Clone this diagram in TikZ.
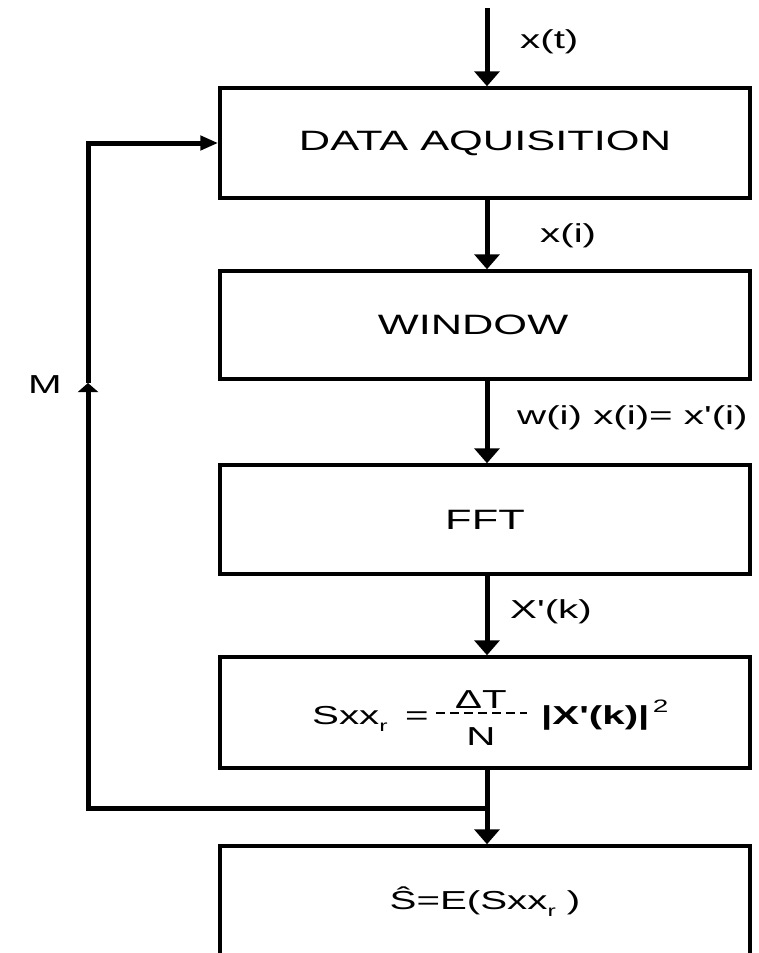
\documentclass[tikz,border=0pt]{standalone}
\usepackage{fontspec}
\newfontfamily\ar[FakeStretch=1.55]{Liberation Sans}
\usetikzlibrary{arrows.meta}
\newcommand{\subr}{\raisebox{-7pt}{\fontsize{16}{16}\selectfont r}}
\begin{document}
\begin{tikzpicture}[x=1pt,y=-1pt,
  blk/.style={draw, line width=3.5pt, minimum width=530pt, inner sep=0pt, font=\ar\fontsize{28}{30}\selectfont},
  conn/.style={line width=5pt, -{Triangle[width=25pt,length=15pt]}},
  fb/.style={line width=5pt},
  lbl/.style={anchor=west, inner sep=0pt, font=\ar\fontsize{26}{28}\selectfont},
  ftxt/.style={inner sep=0pt, font=\ar\fontsize{26}{28}\selectfont},
]
\useasboundingbox (0,0) rectangle (759,953);
\clip (0,0) rectangle (759,953);
\node[blk, minimum height=110pt] (b1) at (485,143) {DATA AQUISITION};
\node[blk, minimum height=108pt] (b2) at (485,325) {\hspace*{-24pt}WINDOW};
\node[blk, minimum height=109pt] (b3) at (485,519.5) {FFT};
\node[blk, minimum height=111pt] (b4) at (485,712.5) {};
\node[blk, minimum height=112pt, font=\ar\fontsize{26}{28}\selectfont] (b5) at (485,902) {\^{S}=E(Sxx\subr\ )};

% formula in box 4
\node[ftxt, anchor=base west] (f1) at (312,724) {Sxx\subr};
\node[ftxt, anchor=base west] (f2) at (405,724) {=};
\node[ftxt] (f3) at (481,700) {ΔT};
\node[ftxt] (f4) at (481,737) {N};
\node[ftxt, anchor=base west] (f5) at (541,724) {\textbf{|X'(k)|}};
\node[ftxt, anchor=base west, font=\ar\fontsize{18}{18}\selectfont] (f6) at ([xshift=3pt]f5.base east) {\raisebox{12pt}{2}};
\draw[line width=2.5pt, dash pattern=on 9pt off 5pt] (436,713) -- (527,713);

% connectors
\coordinate (top) at (487,8);
\draw[conn] (top) -- (b1.north -| top);
\draw[conn] (b1.south -| top) -- (b2.north -| top);
\draw[conn] (b2.south -| top) -- (b3.north -| top);
\draw[conn] (b3.south -| top) -- (b4.north -| top);
\draw[conn] (b4.south -| top) -- (b5.north -| top);

\coordinate (j) at (487,808);
\coordinate (lb) at (88,808);
\coordinate (lm) at (88,383);
\coordinate (lt) at (88,143);
\draw[fb, -{Triangle[width=20pt,length=9pt]}] (j) -- (lb) -- (lm);
\draw[fb, -{Triangle[width=14pt,length=18pt]}] (lm) -- (lt) -- (b1.west);

% labels
\node[lbl] (lxt) at (520,42) {x(t)};
\node[lbl] (lxi) at (540,236) {x(i)};
\node[lbl] (lwx) at (517,418) {w(i) x(i)= x'(i)};
\node[lbl] (lXk) at (510,612) {X'(k)};
\node[lbl] (lM) at (28,385) {M};
\end{tikzpicture}
\end{document}
